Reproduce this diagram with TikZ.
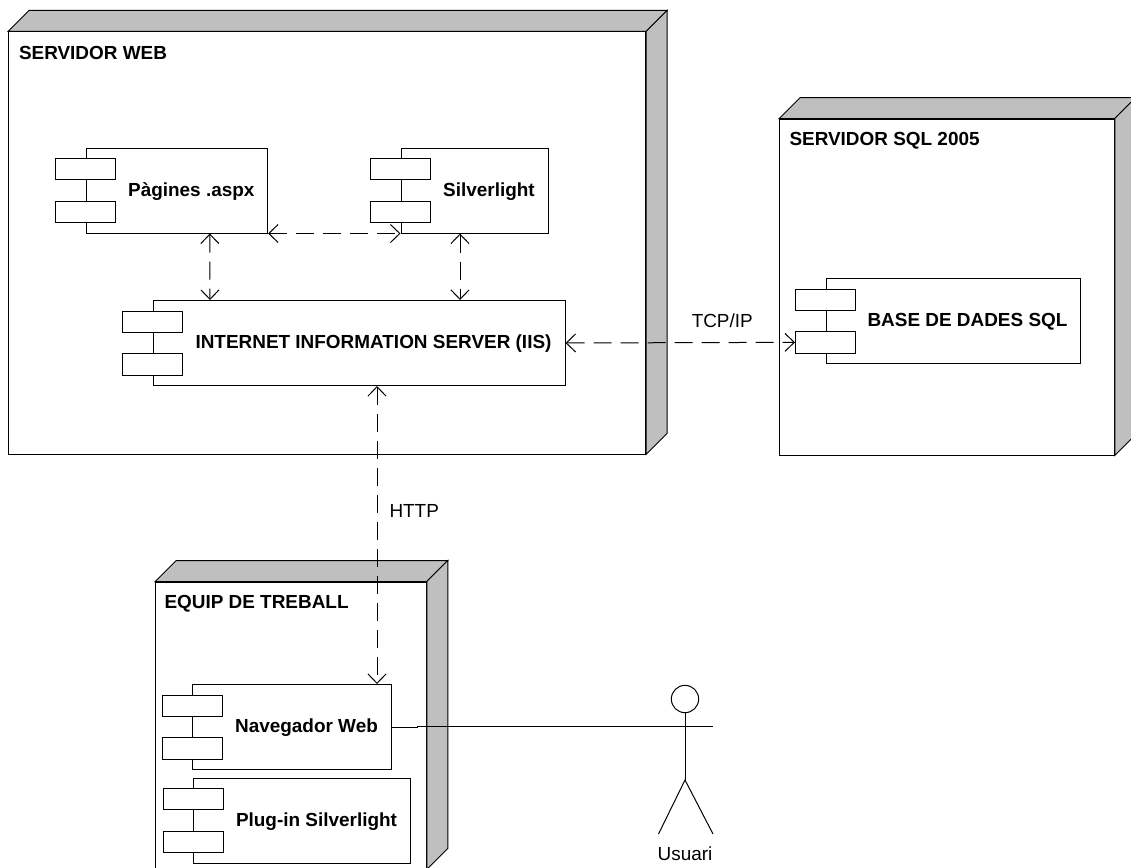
\documentclass[tikz,border=0pt]{standalone}
\usepackage{fontspec}
\setmainfont{Liberation Sans}
\usetikzlibrary{arrows.meta}

\newcommand{\plainsize}{\fontsize{14.2}{17}\selectfont}
\newcommand{\boldsize}{\fontsize{14.2}{17}\selectfont\bfseries}

\tikzset{
  box/.style={draw,fill=white,inner sep=0pt,minimum width=#1*0.75pt},
  nodebox/.style args={#1 by #2}{box=#1,minimum height=#2*0.75pt},
  compbox/.style={box=#1,minimum height=63.75pt,font=\boldsize,
    text height=11.5pt,text depth=3pt,
    execute at begin node=\hspace*{21.75pt}},
  lug/.style={box=60,minimum height=16pt},
  title/.style={anchor=west,inner sep=0pt,font=\boldsize},
  txt/.style={inner sep=0pt,font=\plainsize},
  side/.style={draw,fill=black!25},
  dep/.style={<->,dash pattern=on 13.5pt off 6.75pt}
}

\begin{document}
\begin{tikzpicture}[x=0.75pt,y=-0.75pt,>={Straight Barb[length=7pt,width=13.5pt]},
    line width=0.75pt]
    \useasboundingbox (0,0) rectangle (1131,867);

    % the three machines
    \node[nodebox=637 by 422] (web) at (327,243) {};
    \node[nodebox=334.5 by 336] (sql) at (947,287) {};
    \node[nodebox=270.5 by 287] (equip) at (291,725.5) {};
    \foreach \n in {web,sql,equip} {
        \path[side] (\n.north west) -- ([shift={(21,-21)}]\n.north west)
            -- ([shift={(21,-21)}]\n.north east) -- (\n.north east) -- cycle;
        \path[side] (\n.north east) -- ([shift={(21,-21)}]\n.north east)
            -- ([shift={(21,-21)}]\n.south east) -- (\n.south east) -- cycle;
    }
    \node[title] (webtitle) at (18.5,52.5) {SERVIDOR WEB};
    \node[title] (sqltitle) at (789,140.5) {SERVIDOR SQL 2005};
    \node[title] (equiptitle) at (164,603.5) {EQUIP DE TREBALL};

    % components
    \node[compbox=181.5] (pagines) at (176.8,190.5) {Pàgines .aspx};
    \node[compbox=147] (silverlight) at (474.5,190.5) {Silverlight};
    \node[compbox=412] (iis) at (359,343) {INTERNET INFORMATION SERVER (IIS)};
    \node[compbox=254] (bd) at (953,321) {BASE DE DADES SQL};
    \node[compbox=199] (navegador) at (292,727) {Navegador Web};
    \node[compbox=216.5] (plugin) at (302,820.5) {Plug-in Silverlight};
    \foreach \n in {pagines,silverlight,iis,bd,navegador,plugin} {
        \node[lug,yshift=16pt] (\n1) at (\n.west) {};
        \node[lug,yshift=-16pt] (\n2) at (\n.west) {};
    }

    % actor
    \node[draw,circle,inner sep=0pt,minimum size=20.5pt] (head) at (685,699) {};
    \coordinate (hip) at (685,780);
    \coordinate (handl) at (658,726);
    \coordinate (handr) at (713,726);
    \coordinate (footl) at (658.5,834);
    \coordinate (footr) at (713,834);
    \node[txt] (usuari) at (685,854) {Usuari};
    \draw (head) -- (hip);
    \draw (handl) -- (handr);
    \draw (footl) -- (hip) -- (footr);

    % connections
    \path[dep,draw] (pagines.south east) -- (silverlight.south west);
    \path[dep,draw] ([shift={(33,0)}]pagines.south) -- ([shift={(-149,0)}]iis.north);
    \path[dep,draw] ([shift={(-14.5,0)}]silverlight.south) -- ([shift={(101,0)}]iis.north);
    \path[dep,draw] (iis.east) -- node[txt,above=11pt,xshift=31.5pt] (tcpip) {TCP/IP} (bd2.west);
    \path[dep,draw] ([shift={(18,0)}]iis.south) -- node[txt,right=9pt,pos=0.42] (http) {HTTP} ([shift={(85,0)}]navegador.north);
    \draw (navegador.east) -- ++(25,0) |- (handr);
\end{tikzpicture}
\end{document}
